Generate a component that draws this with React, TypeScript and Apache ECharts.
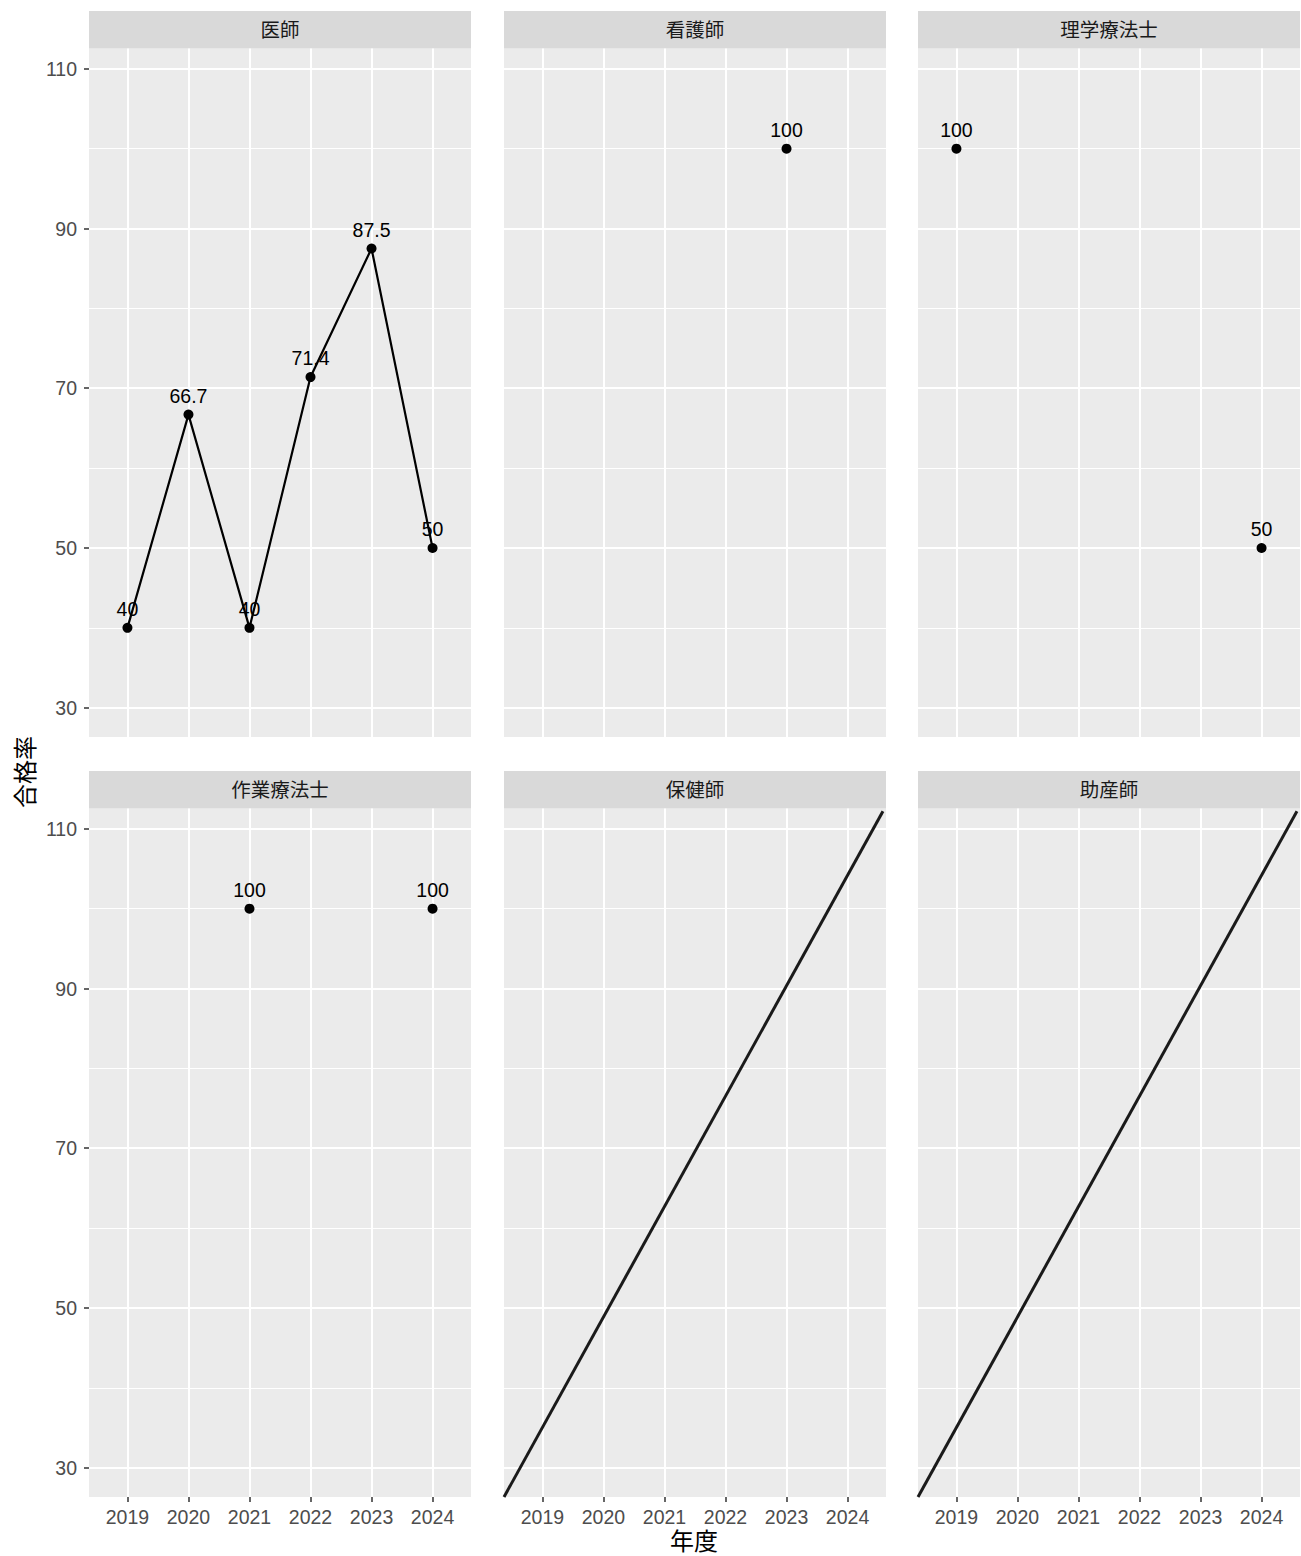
import React, { useEffect, useRef } from "react";
import * as echarts from "echarts";

// ---------- data ----------
const facets = ["医師", "看護師", "理学療法士", "作業療法士", "保健師", "助産師"];
const years = [2019, 2020, 2021, 2022, 2023, 2024];
const ishi = [40, 66.7, 40, 71.4, 87.5, 50];
const kangoshi = [null, null, null, null, 100, null];
const rigaku = [100, null, null, null, null, 50];
const sagyo = [null, null, 100, null, null, 100];
const hokenshi = [null, null, null, null, null, null];
const josanshi = [null, null, null, null, null, null];
const facetValues: (number | null)[][] = [ishi, kangoshi, rigaku, sagyo, hokenshi, josanshi];
const facetHasLine = [true, false, false, false, false, false];
// diagonal line drawn in the empty panels
const diagX = [2018.37, 2024.58];
const diagY = [26.33, 112.2];
const facetHasDiag = [false, false, false, false, true, true];

const yMajor = [30, 50, 70, 90, 110];
const yMinor = [40, 60, 80, 100];
const xMin = 2018.37;
const xMax = 2024.63;
const yMin = 26.33;
const yMax = 112.54;

const yTitle = "合格率";
const xTitle = "年度";

// ---------- layout ----------
const FONT = '"Liberation Sans", "Noto Sans CJK JP", sans-serif';
const colLeft = [89, 504, 918];
const panelW = 382;
const stripTop = [11, 771];
const stripH = 37.5;
const panelTop = [48.5, 808.5];
const panelH = 688.5;
const TICK_FS = 19.5;
const TITLE_FS = 24;

export default function App() {
  const ref = useRef<HTMLDivElement>(null);

  useEffect(() => {
    document.body.style.margin = "0";
    const chart = echarts.init(ref.current!, null, { renderer: "svg" });

    const grids: any[] = [];
    const xAxes: any[] = [];
    const yAxes: any[] = [];
    const series: any[] = [];
    const graphics: any[] = [];

    facets.forEach((name, i) => {
      const r = Math.floor(i / 3);
      const c = i % 3;
      const bottom = r === 1;
      const leftCol = c === 0;
      grids.push({
        left: colLeft[c],
        top: panelTop[r],
        width: panelW,
        height: panelH,
        show: true,
        backgroundColor: "#EBEBEB",
        borderWidth: 0,
        containLabel: false,
      });
      xAxes.push({
        gridIndex: i,
        type: "value",
        min: xMin,
        max: xMax,
        axisLine: { show: false },
        splitLine: { show: false },
        axisTick: {
          show: bottom,
          customValues: years,
          length: 5,
          lineStyle: { color: "#333333", width: 1.5 },
        },
        axisLabel: {
          show: bottom,
          customValues: years,
          color: "#4D4D4D",
          fontSize: TICK_FS,
          fontFamily: FONT,
          margin: 10,
          formatter: (v: number) => String(v),
        },
      });
      yAxes.push({
        gridIndex: i,
        type: "value",
        min: yMin,
        max: yMax,
        axisLine: { show: false },
        splitLine: { show: false },
        axisTick: {
          show: leftCol,
          customValues: yMajor,
          length: 5,
          lineStyle: { color: "#333333", width: 1.5 },
        },
        axisLabel: {
          show: leftCol,
          customValues: yMajor,
          color: "#4D4D4D",
          fontSize: TICK_FS,
          fontFamily: FONT,
          margin: 12,
          formatter: (v: number) => String(v),
        },
      });

      // gridlines
      series.push({
        type: "line",
        xAxisIndex: i,
        yAxisIndex: i,
        data: [],
        silent: true,
        z: 1,
        markLine: {
          silent: true,
          z: 1,
          symbol: ["none", "none"],
          label: { show: false },
          emphasis: { disabled: true },
          lineStyle: { type: "solid", color: "#FFFFFF" },
          data: [
            ...yMinor.map((v) => ({ yAxis: v, lineStyle: { width: 1.1, type: "solid", color: "#FFFFFF" } })),
            ...yMajor.map((v) => ({ yAxis: v, lineStyle: { width: 2, type: "solid", color: "#FFFFFF" } })),
            ...years.map((v) => ({ xAxis: v, lineStyle: { width: 2, type: "solid", color: "#FFFFFF" } })),
          ],
        },
      });

      const vals = facetValues[i];
      const pts = years
        .map((y, k) => [y, vals[k]])
        .filter((p) => p[1] !== null);
      const labelCfg = {
        show: true,
        position: "top",
        distance: 4,
        color: "#000000",
        fontSize: TICK_FS,
        fontFamily: FONT,
        formatter: (p: any) => String(p.value[1]),
      };
      if (pts.length) {
        if (facetHasLine[i]) {
          series.push({
            type: "line",
            xAxisIndex: i,
            yAxisIndex: i,
            data: pts,
            z: 3,
            symbol: "circle",
            symbolSize: 10,
            showSymbol: true,
            itemStyle: { color: "#000000", opacity: 1 },
            lineStyle: { color: "#000000", width: 2.2 },
            label: labelCfg,
            emphasis: { disabled: true },
          });
        } else {
          series.push({
            type: "scatter",
            xAxisIndex: i,
            yAxisIndex: i,
            data: pts,
            z: 3,
            symbol: "circle",
            symbolSize: 10,
            itemStyle: { color: "#000000", opacity: 1 },
            label: labelCfg,
            emphasis: { disabled: true },
          });
        }
      }
      if (facetHasDiag[i]) {
        series.push({
          type: "line",
          xAxisIndex: i,
          yAxisIndex: i,
          data: diagX.map((x, k) => [x, diagY[k]]),
          z: 3,
          symbol: "none",
          clip: true,
          lineStyle: { color: "#1A1A1A", width: 3 },
          emphasis: { disabled: true },
        });
      }

      // strip
      graphics.push({
        type: "rect",
        shape: { x: colLeft[c], y: stripTop[r], width: panelW, height: stripH },
        style: { fill: "#D9D9D9" },
        silent: true,
      });
      graphics.push({
        type: "text",
        x: colLeft[c] + panelW / 2,
        y: stripTop[r] + stripH / 2,
        style: {
          text: name,
          fill: "#1A1A1A",
          fontSize: TICK_FS,
          fontFamily: FONT,
          align: "center",
          verticalAlign: "middle",
        },
        silent: true,
      });
    });

    graphics.push({
      type: "text",
      x: 25,
      y: 772,
      rotation: Math.PI / 2,
      style: {
        text: yTitle,
        fill: "#000000",
        fontSize: TITLE_FS,
        fontFamily: FONT,
        align: "center",
        verticalAlign: "middle",
      },
      silent: true,
    });
    graphics.push({
      type: "text",
      x: 694,
      y: 1541,
      style: {
        text: xTitle,
        fill: "#000000",
        fontSize: TITLE_FS,
        fontFamily: FONT,
        align: "center",
        verticalAlign: "middle",
      },
      silent: true,
    });

    chart.setOption({
      animation: false,
      backgroundColor: "#FFFFFF",
      grid: grids,
      xAxis: xAxes,
      yAxis: yAxes,
      series,
      graphic: { elements: graphics },
    });

    return () => chart.dispose();
  }, []);

  return (
    <div
      ref={ref}
      style={{ position: "absolute", left: 0, top: 0, width: 1301, height: 1556 }}
    />
  );
}
